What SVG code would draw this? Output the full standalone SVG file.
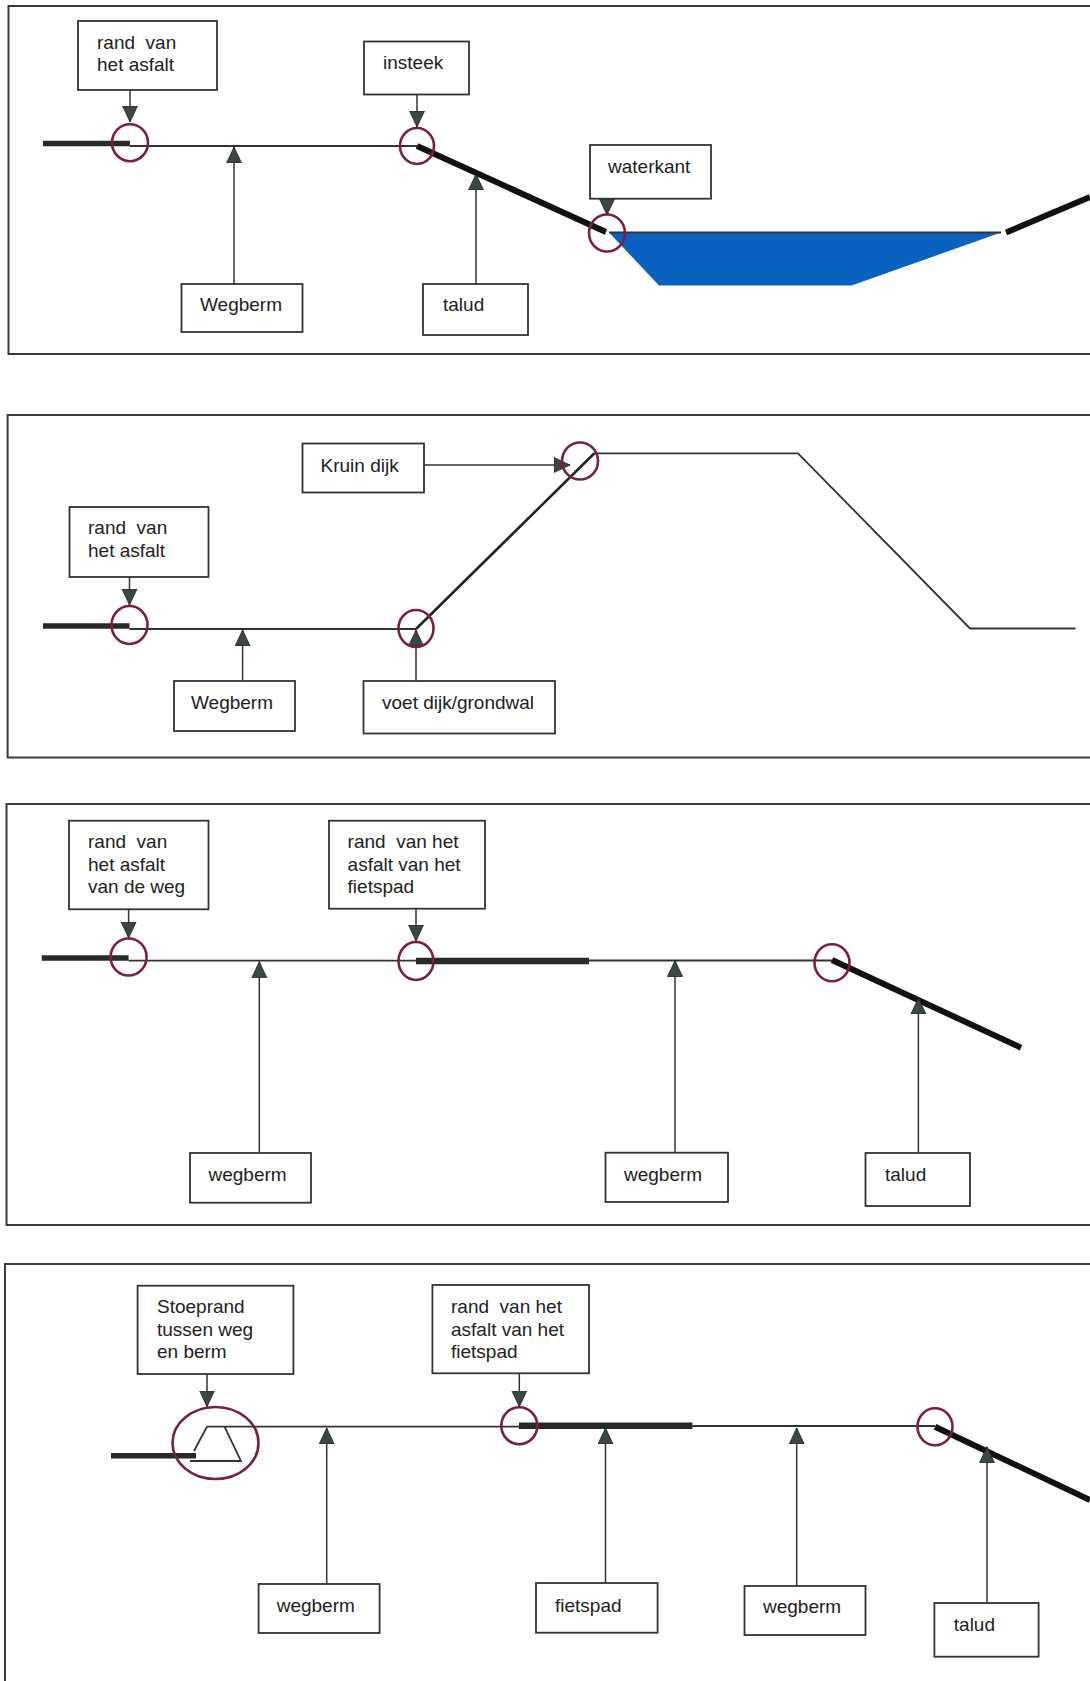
<svg xmlns="http://www.w3.org/2000/svg" width="1090" height="1681" viewBox="0 0 1090 1681">
<style>
.frame{fill:none;stroke:#3a3a3a;stroke-width:2}
.box rect,rect.box{fill:#fff;stroke:#333;stroke-width:1.8}
.box text{font-family:"Liberation Sans",Arial,sans-serif;font-size:19px;fill:#222;white-space:pre}
.thin{fill:none;stroke:#333;stroke-width:1.8}
.mid{fill:none;stroke:#222;stroke-width:2.6}
.thick{fill:none;stroke:#262a2a;stroke-width:5.5}
.slope{fill:none;stroke:#111;stroke-width:6}
.ring{fill:none;stroke:#7a1f3f;stroke-width:2.6}
.conn{fill:none;stroke:#333;stroke-width:1.5;marker-end:url(#head)}
</style>
<defs>
<marker id="head" markerUnits="userSpaceOnUse" markerWidth="17" markerHeight="17" refX="16" refY="8" orient="auto">
<path d="M0 0.5L16 8L0 15.5Z" fill="#3b4744" stroke="#222" stroke-width="0.8"/>
</marker>
</defs>
<rect width="1090" height="1681" fill="#fff"/>
<g id="frames">
<path class="frame" d="M1090 6H8.5V354H1090"/>
<path class="frame" d="M1090 415H7.6V757.5H1090"/>
<path class="frame" d="M1090 804H6.5V1225H1090"/>
<path class="frame" d="M1090 1264H5V1681"/>
</g>
<g id="profiles">
<path d="M609 232.5H1001L851.6 285.5H659Z" fill="#0a62c0"/>
<path class="thin" d="M609 232.5H1001"/>
<path class="thin" d="M130 146H417"/>
<path class="thick" d="M43 143.5H130"/>
<path class="slope" d="M417 146L606 232"/>
<path class="slope" d="M1006 232.5L1090 197"/>
<path class="thin" d="M129.5 629H416"/>
<path class="thick" d="M43 626H129.5"/>
<path class="mid" d="M416 629L594.4 453.3"/>
<path class="thin" d="M594.4 453.3H798L970 628.5H1075.5"/>
<path class="thin" d="M128.6 960.7H416M589 960.5H832"/>
<path class="thick" d="M41.7 958H128.6"/>
<path class="thick" style="stroke-width:6.5" d="M416 961H589"/>
<path class="slope" d="M832 960L1021 1047.7"/>
<path class="thick" d="M111 1455.7H196"/>
<path class="thin" d="M194 1451L207 1426.7H519.3M224.5 1426.7L241 1461H190"/>
<path class="thick" style="stroke-width:6.5" d="M519 1425.7H692.4"/>
<path class="thin" d="M692.4 1426H935"/>
<path class="slope" d="M935 1426.7L1090 1500"/>
</g>
<g id="connectors">
<path class="conn" d="M130 90V122"/>
<path class="conn" d="M234 284V147"/>
<path class="conn" d="M417 94.6V127"/>
<path class="conn" d="M476 284V174"/>
<path class="conn" d="M607 198.7V215"/>
<path class="conn" d="M424 465H570"/>
<path class="conn" d="M129.5 577V605"/>
<path class="conn" d="M242.6 681V630"/>
<path class="conn" d="M416 681V630"/>
<path class="conn" d="M128.6 909.3V938"/>
<path class="conn" d="M416 908.7V941"/>
<path class="conn" d="M259.3 1153V961.7"/>
<path class="conn" d="M675 1152.7V960.5"/>
<path class="conn" d="M918.4 1153V998"/>
<path class="conn" d="M207 1374V1406.7"/>
<path class="conn" d="M519.3 1373.3V1406.7"/>
<path class="conn" d="M326.7 1584V1428"/>
<path class="conn" d="M605.5 1583V1428"/>
<path class="conn" d="M796.7 1586V1428"/>
<path class="conn" d="M987 1603V1446.7"/>
</g>
<g id="rings">
<ellipse class="ring" cx="130" cy="142.7" rx="18" ry="18.5"/>
<ellipse class="ring" cx="417" cy="146" rx="17" ry="18"/>
<ellipse class="ring" cx="607" cy="233" rx="18" ry="18.5"/>
<ellipse class="ring" cx="580" cy="461" rx="18" ry="18.5"/>
<ellipse class="ring" cx="129.5" cy="625" rx="18" ry="19"/>
<ellipse class="ring" cx="416" cy="628.5" rx="17.5" ry="18.5"/>
<ellipse class="ring" cx="128.6" cy="957" rx="18" ry="18.5"/>
<ellipse class="ring" cx="416" cy="961" rx="17.5" ry="19"/>
<ellipse class="ring" cx="832" cy="962.7" rx="17.5" ry="18.5"/>
<ellipse class="ring" cx="215.5" cy="1443" rx="43" ry="36"/>
<ellipse class="ring" cx="519.3" cy="1425.7" rx="18" ry="18.5"/>
<ellipse class="ring" cx="935" cy="1426.7" rx="17.5" ry="18.5"/>
</g>
<g id="n1-rand" class="box"><rect x="78" y="21" width="139" height="69"/><text x="97" y="49">rand  van</text><text x="97" y="71">het asfalt</text></g>
<g id="n1-insteek" class="box"><rect x="364" y="41.5" width="105" height="53"/><text x="383" y="69">insteek</text></g>
<g id="n1-waterkant" class="box"><rect x="590" y="145" width="121" height="53.7"/><text x="608" y="173">waterkant</text></g>
<g id="n1-wegberm" class="box"><rect x="181.5" y="284" width="121" height="48"/><text x="200" y="311">Wegberm</text></g>
<g id="n1-talud" class="box"><rect x="423" y="284" width="105" height="51"/><text x="443" y="311">talud</text></g>
<g id="n2-kruin" class="box"><rect x="302.5" y="443.5" width="121.5" height="49"/><text x="320.5" y="472">Kruin dijk</text></g>
<g id="n2-rand" class="box"><rect x="69.5" y="507" width="139" height="70"/><text x="88" y="534">rand  van</text><text x="88" y="557">het asfalt</text></g>
<g id="n2-wegberm" class="box"><rect x="174" y="681" width="121" height="50"/><text x="191" y="709">Wegberm</text></g>
<g id="n2-voet" class="box"><rect x="363.5" y="681" width="191.5" height="52.5"/><text x="382" y="709">voet dijk/grondwal</text></g>
<g id="n3-rand" class="box"><rect x="69" y="820.7" width="139.5" height="88.6"/><text x="88" y="848">rand  van</text><text x="88" y="871">het asfalt</text><text x="88" y="893">van de weg</text></g>
<g id="n3-fiets" class="box"><rect x="329" y="820.7" width="156" height="88"/><text x="347.6" y="848">rand  van het</text><text x="347.6" y="871">asfalt van het</text><text x="347.6" y="893">fietspad</text></g>
<g id="n3-wegberm1" class="box"><rect x="190" y="1153" width="121" height="49.7"/><text x="208.5" y="1180.7">wegberm</text></g>
<g id="n3-wegberm2" class="box"><rect x="605.5" y="1152.7" width="122.5" height="49.3"/><text x="624" y="1180.7">wegberm</text></g>
<g id="n3-talud" class="box"><rect x="865.5" y="1153" width="104.5" height="53"/><text x="885" y="1180.7">talud</text></g>
<g id="n4-stoep" class="box"><rect x="137.6" y="1285.7" width="155.8" height="88.3"/><text x="157" y="1313">Stoeprand</text><text x="157" y="1336">tussen weg</text><text x="157" y="1358">en berm</text></g>
<g id="n4-fiets" class="box"><rect x="432.4" y="1285" width="156.6" height="88.3"/><text x="451" y="1313">rand  van het</text><text x="451" y="1336">asfalt van het</text><text x="451" y="1358">fietspad</text></g>
<g id="n4-wegberm1" class="box"><rect x="258.6" y="1584" width="121" height="49"/><text x="276.7" y="1612">wegberm</text></g>
<g id="n4-fietspad" class="box"><rect x="536" y="1583" width="121.6" height="49.7"/><text x="555" y="1611.7">fietspad</text></g>
<g id="n4-wegberm2" class="box"><rect x="744.5" y="1586" width="121" height="49"/><text x="763" y="1613">wegberm</text></g>
<g id="n4-talud" class="box"><rect x="934.4" y="1603" width="104.2" height="53.7"/><text x="953.8" y="1630.7">talud</text></g>
</svg>
